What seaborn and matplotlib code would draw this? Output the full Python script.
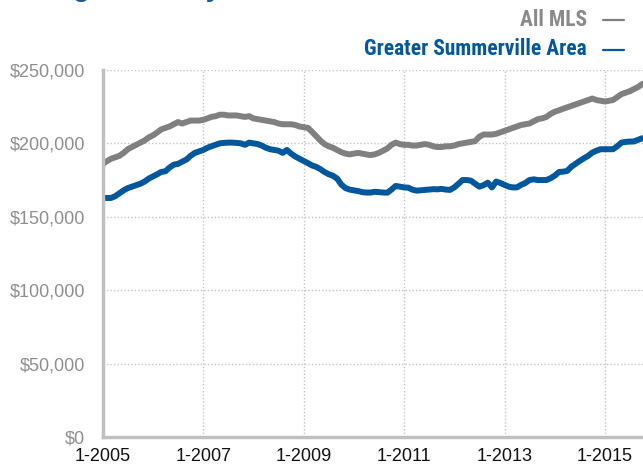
import pandas as pd
import numpy as np
import matplotlib
matplotlib.use("Agg")
import matplotlib.pyplot as plt
from matplotlib.lines import Line2D
from matplotlib.ticker import FuncFormatter
import seaborn as sns

# monthly values in $1,000s, Jan 2005 - Oct 2015
all_mls = [
    186, 188, 189.5, 190.5, 191.5, 193.5, 196, 197.5, 199, 200.5, 202, 204,
    205.5, 207.5, 209.5, 210.5, 211.5, 213, 214.5, 213.5, 214.5, 215.5, 215.5, 215.5,
    216, 217, 218, 218.5, 219.5, 219.5, 219, 219, 219, 218.5, 218, 218.5,
    217, 216.5, 216, 215.5, 215, 214.5, 213.5, 213, 213, 213, 212.5, 211.5,
    211, 210.5, 208, 205, 202, 199.5, 198, 197, 195.5, 194, 193, 192.5,
    193, 193.5, 193, 192.5, 192, 192.5, 193.5, 195, 196.5, 199, 200.5, 199.5,
    199, 199, 198.5, 198.5, 199, 199.5, 199, 198, 197.5, 197.5, 198, 198,
    198.5, 199.5, 200, 200.5, 201, 201.5, 204.5, 206, 206, 206, 206.5, 207.5,
    208.5, 209.5, 210.5, 211.5, 212.5, 213, 213.5, 215, 216.5, 217, 218, 220,
    221.5, 222.5, 223.5, 224.5, 225.5, 226.5, 227.5, 228.5, 229.5, 230.5, 229.5, 229,
    228.5, 229, 229.5, 231.5, 233.5, 234.5, 235.5, 237, 238.5, 240.5,
]
summerville = [
    162.8, 162.8, 162.8, 164, 166, 168, 169.5, 170.5, 171.5, 172.5, 174, 176,
    177.5, 179, 180.5, 181, 183.5, 185.5, 186, 187.5, 189, 191.5, 193.5, 194.5,
    195.5, 197, 198, 199, 200, 200.3, 200.5, 200.5, 200.3, 200, 199, 200.5,
    200, 199.5, 198.5, 197, 196, 195.5, 195, 193.5, 195.5, 193, 191, 189.5,
    188, 186.5, 185, 184, 182.5, 180.5, 179, 178, 176, 172, 169.5, 168.5,
    168, 167.5, 166.8, 166.5, 166.5, 167, 166.8, 166.5, 166.4, 168.5, 171, 170.5,
    170, 169.8, 168.5, 167.8, 168, 168.3, 168.5, 168.8, 168.7, 169, 168.5, 168.3,
    170, 172.5, 175, 175, 174.6, 172.5, 170.5, 171.5, 173.2, 170, 174, 173,
    171.7, 170.5, 170, 170, 171.7, 173, 175, 175.5, 175, 175, 175, 176.2,
    178, 180.5, 180.7, 181.2, 184, 186, 188, 189.8, 191.5, 193.7, 195, 196,
    196, 196, 196, 198, 200.5, 201, 201.2, 201.3, 202.5, 203.5,
]
tick_years = [2005, 2007, 2009, 2011, 2013, 2015]
months = pd.date_range("2005-01-01", periods=len(all_mls), freq="MS")
series_names = ["All MLS", "Greater Summerville Area"]
colors = ["#808080", "#00579b"]

df = pd.DataFrame({
    "month": list(months) * 2,
    "price": np.array(all_mls + summerville) * 1000,
    "area": [series_names[0]] * len(all_mls) + [series_names[1]] * len(summerville),
})

sns.set_style("white")
plt.rcParams["font.family"] = ["Liberation Sans", "DejaVu Sans"]

fig = plt.figure(figsize=(6.43, 4.70), dpi=100)
ax = fig.add_axes([0.160, 0.0702, 0.840, 0.781])

sns.lineplot(data=df, x="month", y="price", hue="area", palette=colors,
             linewidth=4.3, legend=False, ax=ax)

ax.set_ylim(0, 250000)
ax.set_xlim(pd.Timestamp("2005-01-01"), pd.Timestamp("2015-10-05"))
ax.set_yticks(range(0, 250001, 50000))
ax.yaxis.set_major_formatter(FuncFormatter(lambda v, p: f"${v:,.0f}"))
ax.set_xticks([pd.Timestamp(f"{y}-01-01") for y in tick_years])
ax.set_xticklabels([f"1-{y}" for y in tick_years])
ax.set_xlabel("")
ax.set_ylabel("")

ax.grid(True, linestyle=(0, (1, 1.5)), color="#c4c4c4", linewidth=1)
for s in ["top", "right"]:
    ax.spines[s].set_visible(False)
for s in ["left", "bottom"]:
    ax.spines[s].set_color("#c0c0c0")
    ax.spines[s].set_linewidth(2.5)
ax.tick_params(axis="y", length=0, labelsize=13, labelcolor="#8f8f8f", pad=13)
ax.tick_params(axis="x", length=4, width=2.5, color="#c0c0c0",
               labelsize=13, labelcolor="#111111", pad=4)

# partly cropped heading
fig.text(-0.005, 1.0085, "Average Price by Market Area", fontsize=20,
         fontweight="bold", color="#1d5a96", va="baseline", ha="left")

# legend: label text plus a short dash on the right
legend_y = [0.9453, 0.883]
for name, col, y in zip(series_names, colors, legend_y):
    fig.text(0.913, y, name, fontsize=15.5, fontweight="bold",
             color="#8a8a8a" if col == "#808080" else col,
             ha="right", va="baseline",
             family=["Roboto Condensed", "DejaVu Sans"])
    fig.add_artist(Line2D([0.938, 0.970], [y + 0.0115, y + 0.0115],
                          transform=fig.transFigure, color=col, linewidth=1.6))

fig.savefig("out.png", dpi=100)
